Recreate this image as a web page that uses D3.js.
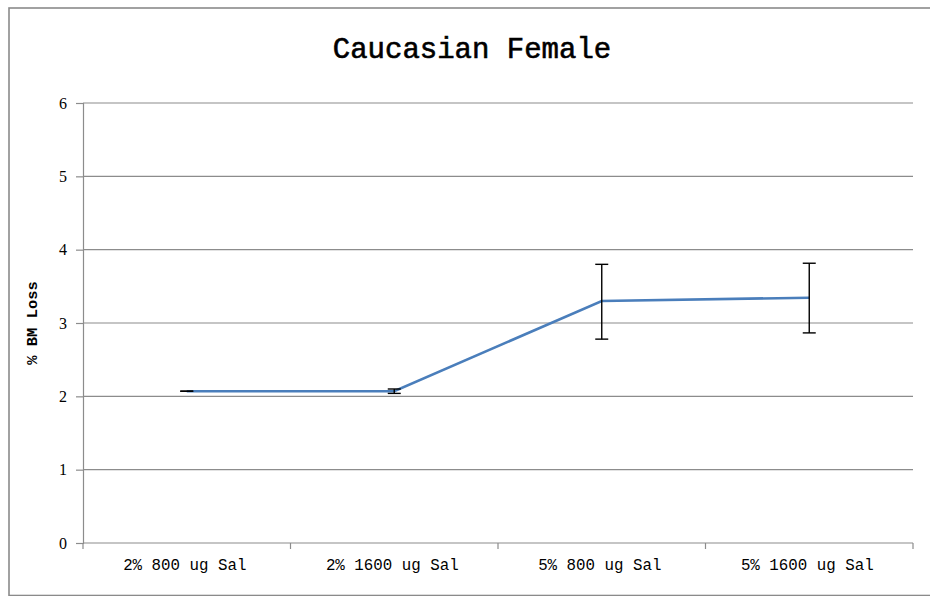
<!DOCTYPE html>
<html>
<head>
<meta charset="utf-8">
<script src="https://cdn.jsdelivr.net/npm/d3@7/dist/d3.min.js"></script>
<style>
  html, body { margin: 0; padding: 0; background: #fff; }
  svg { display: block; }
</style>
</head>
<body>
<svg id="chart" width="930" height="596"></svg>
<script>
// Treatment groups along the x axis
const categories = ["2% 800 ug Sal", "2% 1600 ug Sal", "5% 800 ug Sal", "5% 1600 ug Sal"];
// Mean % BM loss per group
const meanLoss = [2.07, 2.07, 3.30, 3.345];
// Error bar half-lengths (upper / lower)
const errUpper = [0.0, 0.03, 0.50, 0.47];
const errLower = [0.0, 0.03, 0.52, 0.48];
// Y axis ticks
const yTicks = [0, 1, 2, 3, 4, 5, 6];

const svg = d3.select("#chart");
const W = 930, H = 596;
const plot = { left: 83, right: 913, top: 103, bottom: 543 };
const monoFont = "'Liberation Mono', 'DejaVu Sans Mono', monospace";
const gridColor = "#8c8c8c";

// Outer chart frame
svg.append("rect")
  .attr("x", 9).attr("y", 8)
  .attr("width", W + 10).attr("height", H - 8 - 0.5)
  .attr("fill", "none")
  .attr("stroke", "#8a8a8a")
  .attr("stroke-width", 1.6);

const x = d3.scaleBand().domain(categories).range([plot.left, plot.right]).padding(0);
const y = d3.scaleLinear().domain([0, 6]).range([plot.bottom, plot.top]);

// Horizontal gridlines
svg.append("g")
  .selectAll("line")
  .data(yTicks.filter(t => t > 0))
  .join("line")
  .attr("x1", plot.left).attr("x2", plot.right)
  .attr("y1", d => y(d)).attr("y2", d => y(d))
  .attr("stroke", gridColor).attr("stroke-width", 1.2);

// Y axis
const yAxis = svg.append("g")
  .attr("transform", `translate(${plot.left},0)`)
  .call(d3.axisLeft(y).tickValues(yTicks).tickSize(7).tickPadding(9).tickFormat(d3.format("d")));
yAxis.select(".domain").attr("stroke", gridColor).attr("stroke-width", 1.2);
yAxis.selectAll(".tick line").attr("stroke", gridColor).attr("stroke-width", 1.2);
yAxis.selectAll(".tick text")
  .attr("font-family", "'Liberation Serif', 'DejaVu Serif', serif")
  .attr("font-size", 16)
  .attr("fill", "#000");

// X axis with ticks at band boundaries
const boundaries = categories.map(c => x(c)).concat([plot.right]);
const xAxisG = svg.append("g").attr("transform", `translate(0,${plot.bottom})`);
xAxisG.append("line")
  .attr("x1", plot.left).attr("x2", plot.right)
  .attr("y1", 0).attr("y2", 0)
  .attr("stroke", gridColor).attr("stroke-width", 1.2);
xAxisG.selectAll("line.tk")
  .data(boundaries)
  .join("line")
  .attr("class", "tk")
  .attr("x1", d => d).attr("x2", d => d)
  .attr("y1", 0).attr("y2", 6)
  .attr("stroke", gridColor).attr("stroke-width", 1.2);
xAxisG.selectAll("text")
  .data(categories)
  .join("text")
  .attr("x", d => x(d) + x.bandwidth() / 2 - 2)
  .attr("y", 27)
  .attr("text-anchor", "middle")
  .attr("font-family", monoFont)
  .attr("font-size", 15.8)
  .attr("fill", "#000")
  .text(d => d);

// Data line
const cx = d => x(d) + x.bandwidth() / 2;
const points = categories.map((c, i) => ({ c, v: meanLoss[i], up: errUpper[i], lo: errLower[i] }));
svg.append("path")
  .datum(points)
  .attr("fill", "none")
  .attr("stroke", "#4a7ebb")
  .attr("stroke-width", 2.6)
  .attr("d", d3.line().x(d => cx(d.c)).y(d => y(d.v)));

// Error bars
const capHalf = 6.5;
const eb = svg.append("g").attr("stroke", "#000").attr("stroke-width", 1.4);
points.forEach(p => {
  const xc = cx(p.c);
  const yTop = y(p.v + p.up), yBot = y(p.v - p.lo);
  eb.append("line").attr("x1", xc).attr("x2", xc).attr("y1", yTop).attr("y2", yBot);
  eb.append("line").attr("x1", xc - capHalf).attr("x2", xc + capHalf).attr("y1", yTop).attr("y2", yTop);
  eb.append("line").attr("x1", xc - capHalf).attr("x2", xc + capHalf).attr("y1", yBot).attr("y2", yBot);
});

// Title
svg.append("text")
  .attr("x", 472).attr("y", 58)
  .attr("text-anchor", "middle")
  .attr("font-family", monoFont)
  .attr("font-size", 29)
  .attr("fill", "#000")
  .attr("stroke", "#000")
  .attr("stroke-width", 0.6)
  .text("Caucasian Female");

// Y axis title
svg.append("text")
  .attr("transform", `translate(37,323) rotate(-90)`)
  .attr("text-anchor", "middle")
  .attr("font-family", monoFont)
  .attr("font-size", 15.5)
  .attr("font-weight", "bold")
  .attr("fill", "#000")
  .text("% BM Loss");
</script>
</body>
</html>
